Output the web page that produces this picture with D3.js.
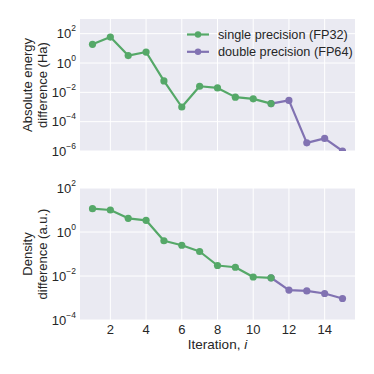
<!DOCTYPE html>
<html>
<head>
<meta charset="utf-8">
<script src="https://cdn.jsdelivr.net/npm/d3@7"></script>
<style>
body { margin:0; background:#fff; }
text { font-family: "Liberation Sans", Arial, sans-serif; fill:#262626; }
</style>
</head>
<body>
<div id="chart"></div>
<script>
// size of SVG
var w = 374, h = 374;

// iterations
var iterSingle = [1,2,3,4,5,6,7,8,9,10,11];
var iterDouble = [11,12,13,14,15];
// absolute energy difference (Ha)
var energySingle = [18.7, 59, 3.2, 5.6, 0.06, 0.001, 0.026, 0.02, 0.0047, 0.0036, 0.0017];
var energyDouble = [0.0017, 0.0028, 3.6e-6, 7.2e-6, 1e-6];
// density difference (a.u.)
var densitySingle = [11.5, 10, 4.2, 3.4, 0.4, 0.25, 0.13, 0.03, 0.025, 0.009, 0.0083];
var densityDouble = [0.0083, 0.0023, 0.0021, 0.0016, 0.00095];
// tick labels
var xTicks = [2,4,6,8,10,12,14];
var energyTicks = [2,0,-2,-4,-6];
var densityTicks = [2,0,-2,-4];
var legendLabels = ["single precision (FP32)", "double precision (FP64)"];

var green = "#55A868", purple = "#8172B2";

var svg = d3.select("#chart").append("svg")
  .attr("width", w).attr("height", h);

var left = 80, right = 355;
var x = d3.scaleLinear().domain([0.3, 15.7]).range([left, right]);

function panel(top, bottom, ymin, ymax, ticks, single, dbl, label, id, legend) {
  var y = d3.scaleLog().domain([ymin, ymax]).range([bottom, top]);
  var g = svg.append("g");
  g.append("rect").attr("x", left).attr("y", top)
    .attr("width", right - left).attr("height", bottom - top)
    .attr("fill", "#EAEAF2");
  svg.append("clipPath").attr("id", id)
    .append("rect").attr("x", left).attr("y", top)
    .attr("width", right - left).attr("height", bottom - top);

  // grid
  g.selectAll(".gx").data(xTicks).enter().append("line")
    .attr("x1", d => x(d)).attr("x2", d => x(d))
    .attr("y1", top).attr("y2", bottom)
    .attr("stroke", "#fff").attr("stroke-width", 1);
  g.selectAll(".gy").data(ticks).enter().append("line")
    .attr("x1", left).attr("x2", right)
    .attr("y1", d => y(Math.pow(10, d))).attr("y2", d => y(Math.pow(10, d)))
    .attr("stroke", "#fff").attr("stroke-width", 1);

  // y tick labels
  var tl = g.selectAll(".ty").data(ticks).enter().append("text")
    .attr("x", 76).attr("y", d => y(Math.pow(10, d)) + 4.5)
    .attr("text-anchor", "end").style("font-size", "13px");
  tl.append("tspan").text("10");
  tl.append("tspan").attr("dy", -7).style("font-size", "8.5px")
    .text(d => d < 0 ? "\u2212" + (-d) : d);

  // y label
  var ym = (top + bottom) / 2;
  var yl = g.append("text").attr("transform", "translate(0," + ym + ") rotate(-90)")
    .attr("text-anchor", "middle").style("font-size", "13px");
  yl.append("tspan").attr("x", 0).attr("y", 32).text(label[0]);
  yl.append("tspan").attr("x", 0).attr("y", 46.5).text(label[1]);

  var line = d3.line().x(d => x(d[0])).y(d => y(d[1]));
  var series = [
    {c: purple, pts: d3.zip(iterDouble, dbl)},
    {c: green, pts: d3.zip(iterSingle, single)}
  ];
  var pg = g.append("g").attr("clip-path", "url(#" + id + ")");
  series.forEach(function(s) {
    pg.append("path").datum(s.pts).attr("d", line)
      .attr("fill", "none").attr("stroke", s.c).attr("stroke-width", 2.2)
      .attr("stroke-linejoin", "round");
    pg.selectAll(null).data(s.pts).enter().append("circle")
      .attr("cx", d => x(d[0])).attr("cy", d => y(d[1]))
      .attr("r", 3.6).attr("fill", s.c);
  });

  if (legend) {
    [green, purple].forEach(function(c, i) {
      var ly = 34.5 + i * 17.3;
      g.append("line").attr("x1", 187).attr("x2", 209).attr("y1", ly).attr("y2", ly)
        .attr("stroke", c).attr("stroke-width", 2.2);
      g.append("circle").attr("cx", 198).attr("cy", ly).attr("r", 3.2).attr("fill", c);
      g.append("text").attr("x", 218).attr("y", ly + 4.5)
        .style("font-size", "12.7px").text(legendLabels[i]);
    });
  }
  return g;
}

panel(19, 151, 1e-6, 1e3, energyTicks, energySingle, energyDouble,
  ["Absolute energy", "difference (Ha)"], "clipTop", true);
panel(188, 320, 1e-4, 1e2, densityTicks, densitySingle, densityDouble,
  ["Density", "difference (a.u.)"], "clipBottom", false);

// x tick labels
svg.selectAll(".tx").data(xTicks).enter().append("text")
  .attr("x", d => x(d)).attr("y", 334)
  .attr("text-anchor", "middle").style("font-size", "13px").text(d => d);

var xl = svg.append("text").attr("x", (left + right) / 2).attr("y", 349)
  .attr("text-anchor", "middle").style("font-size", "13.5px");
xl.append("tspan").text("Iteration, ");
xl.append("tspan").style("font-style", "italic").text("i");
</script>
</body>
</html>
